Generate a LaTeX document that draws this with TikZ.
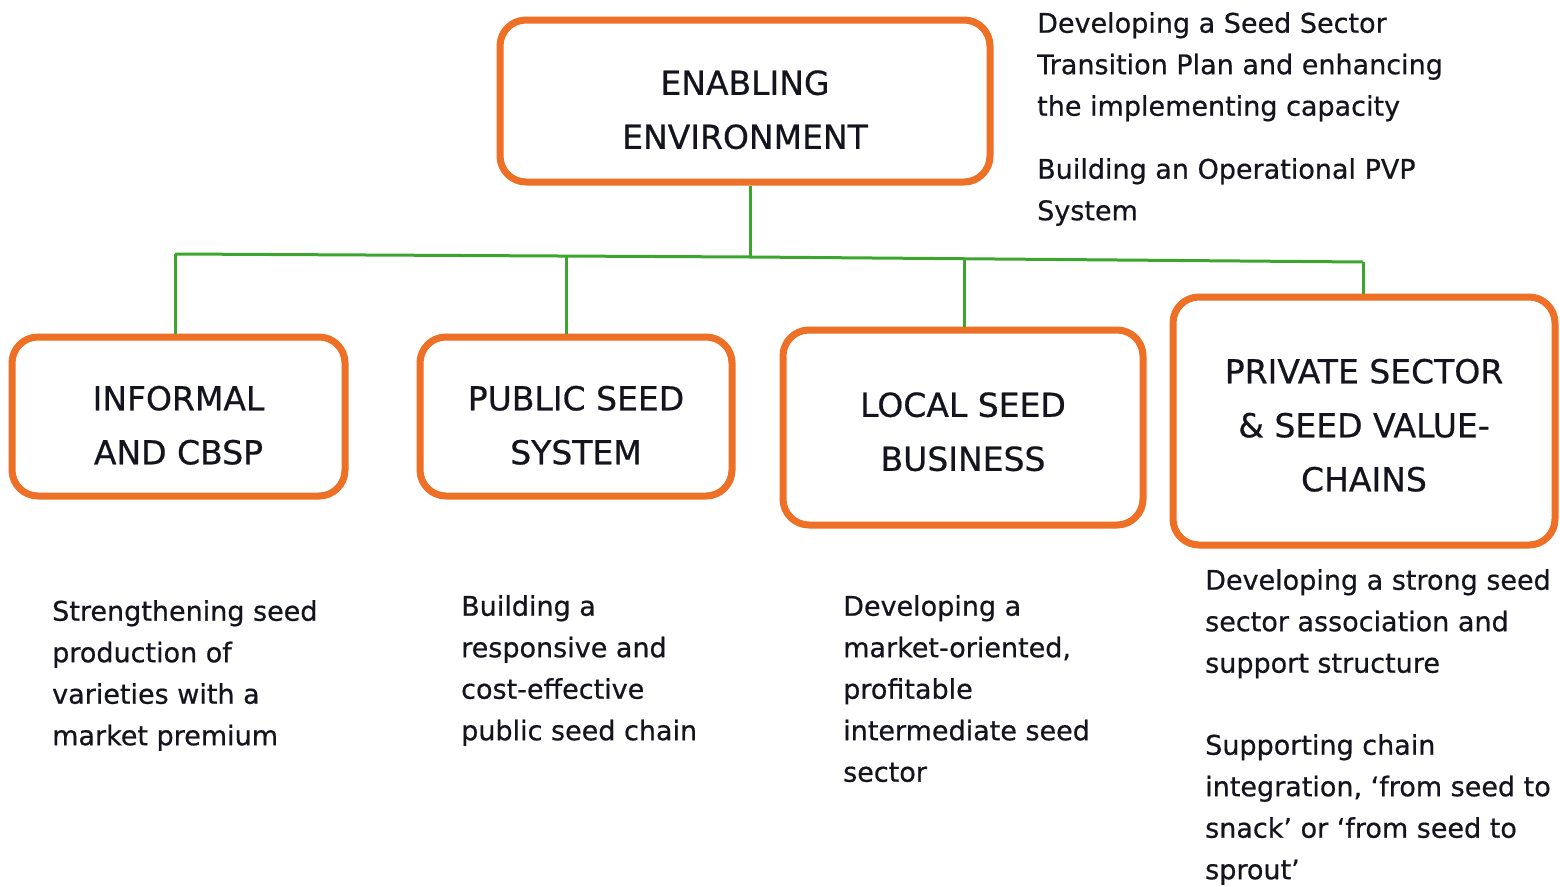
\documentclass[tikz,border=0pt]{standalone}
\usepackage{fontspec}
\setmainfont{DejaVu Sans}[FakeBold=0.6]
\definecolor{boxorange}{RGB}{238,112,38}
\definecolor{linegreen}{RGB}{60,165,45}
\definecolor{txt}{RGB}{20,20,30}
\newcommand\bxtext[2]{\raisebox{#1}[\height][\depth]{\begin{tabular}{@{}c@{}}#2\end{tabular}}}
\begin{document}
\begin{tikzpicture}[x=1pt,y=-1pt,
  box/.style={draw=boxorange, line width=7pt, rounded corners=26pt, text=txt,
    font=\fontsize{33}{54}\selectfont, inner sep=0pt},
  conn/.style={draw=linegreen, line width=3pt},
  note/.style={anchor=north west, align=left, inner sep=0pt, text=txt,
    font=\fontsize{27}{41.5}\selectfont}]
\useasboundingbox[fill=white] (0,0) rectangle (1560,886);
% boxes
\node[box, minimum width=490pt, minimum height=162pt] (ee) at (745,101) {\bxtext{-10pt}{ENABLING\\ENVIRONMENT}};
\node[box, minimum width=333pt, minimum height=159pt] (inf) at (178.5,416.5) {\bxtext{-10pt}{INFORMAL\\AND CBSP}};
\node[box, minimum width=312pt, minimum height=159pt] (pub) at (576,416.5) {\bxtext{-10pt}{PUBLIC SEED\\SYSTEM}};
\node[box, minimum width=360pt, minimum height=195pt] (loc) at (963,427.5) {\bxtext{-5.5pt}{LOCAL SEED\\BUSINESS}};
\node[box, minimum width=382pt, minimum height=248pt] (pri) at (1364,421) {\bxtext{-5.5pt}{PRIVATE SECTOR\\\& SEED VALUE-\\CHAINS}};
% connectors
\coordinate (hub) at (750,257);
\coordinate (b1) at (175,254);
\coordinate (b2) at (566,256);
\coordinate (b3) at (964,259);
\coordinate (b4) at (1363,262);
\draw[conn] (ee.south -| hub) -- (hub);
\draw[conn] (b1) -- (hub) -- (b4);
\draw[conn] (b1) -- (inf.north -| b1);
\draw[conn] (b2) -- (pub.north -| b2);
\draw[conn] (b3) -- (loc.north -| b3);
\draw[conn] (b4) -- (pri.north -| b4);
% notes
\node[note] (t1) at (1037,12) {Developing a Seed Sector\\Transition Plan and enhancing\\the implementing capacity};
\node[note] (t2) at (1037,158) {Building an Operational PVP\\System};
\node[note] (n1) at (52,600) {Strengthening seed\\production of\\varieties with a\\market premium};
\node[note] (n2) at (461,595) {Building a\\responsive and\\cost-effective\\public seed chain};
\node[note] (n3) at (843,595) {Developing a\\market-oriented,\\profitable\\intermediate seed\\sector};
\node[note] (n4) at (1205,569) {Developing a strong seed\\sector association and\\support structure};
\node[note] (n5) at (1205,734) {Supporting chain\\integration, `from seed to\\snack' or `from seed to\\sprout'};
\end{tikzpicture}
\end{document}
